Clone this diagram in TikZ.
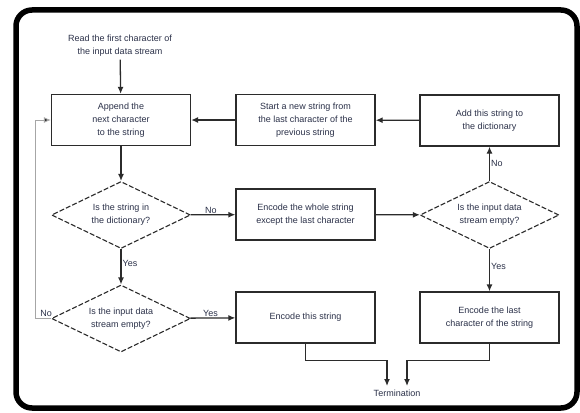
\documentclass[tikz,border=0pt]{standalone}
\usepackage{fontspec}
\setmainfont{Liberation Sans}
\usetikzlibrary{shapes.geometric,arrows.meta}
\definecolor{txt}{HTML}{2A3048}
\definecolor{ln}{HTML}{2B2B2B}
\tikzset{
  every node/.style={font=\fontsize{9}{13}\selectfont, text=txt, align=center},
  pbox/.style={draw=ln, line width=1.3pt, rectangle, minimum width=139pt, minimum height=51pt, inner sep=1pt},
  dbox/.style={draw=ln, line width=1.1pt, diamond, dash pattern=on 5pt off 2pt, minimum width=139pt, minimum height=67pt, inner sep=0pt, aspect=2},
  conn/.style={draw=ln, line width=1.3pt, -{Latex[length=7pt,width=6pt]}},
  lbl/.style={font=\fontsize{9}{11}\selectfont, inner sep=1pt}
}
\begin{document}
\begin{tikzpicture}[x=1pt,y=-1pt]
\useasboundingbox (0,0) rectangle (580,412);
\draw[line width=5.5pt, rounded corners=16pt] (16,10) rectangle (577,408);
\node (start) at (120,45.5) {Read the first character of\\the input data stream};
\node[pbox] (app) at (121,120) {Append the\\next character\\to the string};
\node[pbox] (newstr) at (305.5,120) {Start a new string from\\the last character of the\\previous string};
\node[pbox] (add) at (489.5,120.5) {Add this string to\\the dictionary};
\node[dbox] (d1) at (121,215) {Is the string in\\the dictionary?};
\node[pbox] (enc) at (305.5,214.5) {Encode the whole string\\except the last character};
\node[dbox] (d2) at (489.5,215) {Is the input data\\stream empty?};
\node[dbox] (d3) at (121,318.5) {Is the input data\\stream empty?};
\node[pbox] (encthis) at (305.5,317.5) {Encode this string};
\node[pbox] (enclast) at (489.5,317.5) {Encode the last\\character of the string};
\node (term) at (397,393.5) {Termination};
\coordinate (t1) at (387,386);
\coordinate (t2) at (407,386);
\coordinate (lp) at (35,318.5);
% connectors
\draw[conn] (start) -- (app);
\draw[conn] (app) -- (d1);
\draw[conn] (d1) -- node[lbl, above, pos=0.45] {No} (enc);
\draw[conn] (d1) -- node[lbl, right, pos=0.4] {Yes} (d3);
\draw[conn] (enc) -- (d2);
\draw[conn] (d2) -- node[lbl, right, pos=0.5] {No} (add);
\draw[conn] (d2) -- node[lbl, right, pos=0.4] {Yes} (enclast);
\draw[conn] (add) -- (newstr);
\draw[conn] (newstr) -- (app);
\draw[conn] (d3) -- node[lbl, above, pos=0.45] {Yes} (encthis);
\draw[draw=gray!70, line width=0.9pt] (d3.west) -- node[lbl, above, pos=0.3] {No} (lp);
\draw[draw=gray!70, line width=0.9pt, -{Latex[length=7pt,width=6pt,fill=ln]}] (lp) |- (app.west);
\draw[conn] (encthis.south) -- ++(0,17) -| (t1);
\draw[conn] (enclast.south) -- ++(0,17) -| (t2);
\end{tikzpicture}
\end{document}
